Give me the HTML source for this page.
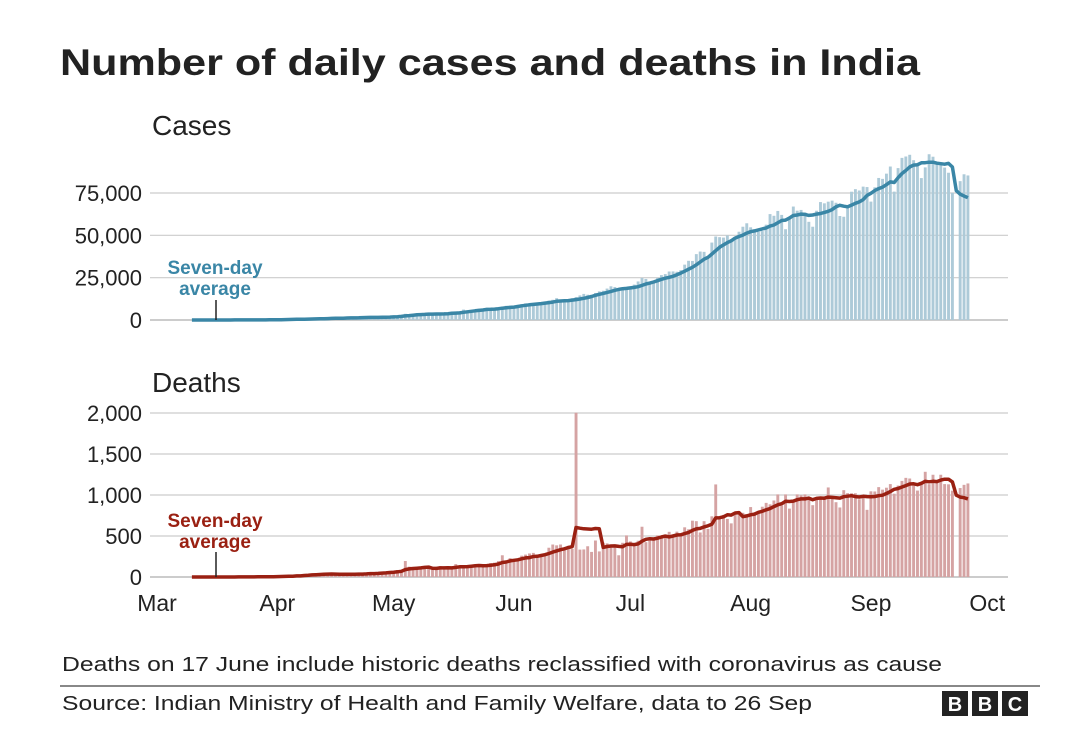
<!DOCTYPE html>
<html><head><meta charset="utf-8"><style>
html,body{margin:0;padding:0;background:#fff;}
svg{display:block;font-family:"Liberation Sans",Arial,sans-serif;}
</style></head><body>
<svg id="chart" width="1080" height="751" viewBox="0 0 1080 751">
<text x="60" y="75" font-size="37" font-weight="bold" fill="#222" textLength="860" lengthAdjust="spacingAndGlyphs">Number of daily cases and deaths in India</text>
<text x="152" y="135" font-size="28" fill="#222">Cases</text>
<text x="152" y="392" font-size="28" fill="#222">Deaths</text>
<g id="cases"></g>
<g id="deaths"></g>
<g id="xaxis"></g>
<text x="62" y="671" font-size="20" fill="#222" textLength="880" lengthAdjust="spacingAndGlyphs">Deaths on 17 June include historic deaths reclassified with coronavirus as cause</text>
<line x1="60" y1="686" x2="1040" y2="686" stroke="#888" stroke-width="2"/>
<text x="62" y="710" font-size="20" fill="#222" textLength="750" lengthAdjust="spacingAndGlyphs">Source: Indian Ministry of Health and Family Welfare, data to 26 Sep</text>
<g>
<rect x="942" y="691" width="26" height="25" fill="#222"/><rect x="972" y="691" width="26" height="25" fill="#222"/><rect x="1002" y="691" width="26" height="25" fill="#222"/>
<text x="955" y="711" font-size="20" font-weight="bold" fill="#fff" text-anchor="middle">B</text>
<text x="985" y="711" font-size="20" font-weight="bold" fill="#fff" text-anchor="middle">B</text>
<text x="1015" y="711" font-size="20" font-weight="bold" fill="#fff" text-anchor="middle">C</text>
</g>
</svg>
<script>
const startDay = 9; // Mar 10 = day index 9 from Mar 1
const cases = [6,13,9,15,19,10,12,23,24,40,50,86,64,80,85,73,88,90,97,103,227,146,
437,235,478,525,505,704,508,485,591,896,768,918,796,1463,1076,941,1007,1324,1580,1334,1540,1290,1667,1408,1835,1607,1561,1873,1738,1801,
2396,2564,2952,3656,2971,3602,3344,3339,3175,4311,3592,3604,3524,3763,3942,4864,5050,4630,6147,5611,5609,6088,6654,6767,6977,6535,6387,7466,7964,8380,8392,
8171,8909,9304,9851,9887,9971,9983,9987,10956,11458,11929,12881,11502,10667,10974,12881,13586,14516,15413,14933,14821,15968,16922,17296,18552,19906,19459,18522,18653,18339,
19148,20903,22771,24850,24248,22252,22752,24879,26506,27114,28637,28701,28498,29429,32695,34956,34884,38902,40425,40243,37148,45720,49310,48916,48661,49931,47704,48513,52123,55079,57118,
54735,52972,52050,52509,56282,62538,61537,64399,62064,53601,60963,66999,64553,65002,63490,57981,55079,64531,69652,68898,69876,70488,69239,61408,60975,67151,75760,77266,76472,78761,78512,
69921,78357,83883,83341,86432,90632,75809,89706,95735,96551,97570,94372,92071,83809,90123,97894,96424,93337,92605,90000,86961,75083,null,82000,86052,85362];
const deaths = [0,1,0,1,0,0,1,0,1,0,0,2,1,2,1,1,3,4,6,4,2,9,
3,14,9,20,11,25,13,32,36,40,37,34,35,33,37,35,23,31,37,36,35,47,38,41,57,40,48,62,60,73,
72,85,83,195,126,89,103,95,128,111,87,122,134,100,103,120,157,134,132,140,132,137,148,137,146,170,175,194,265,193,230,
200,209,260,273,287,294,247,266,279,357,396,386,396,325,380,343,2003,334,336,375,306,445,312,418,410,384,380,265,417,507,
434,379,442,613,425,467,482,507,475,519,551,500,553,500,606,582,687,681,543,681,587,740,1129,705,757,708,654,768,779,783,764,
853,771,803,857,904,886,933,1007,871,1007,834,942,1007,996,1007,941,876,944,977,983,1092,983,912,848,1059,1023,1021,1021,948,971,819,
1045,1043,1096,1065,1089,1133,1016,1115,1172,1209,1201,1114,1054,1136,1283,1132,1247,1174,1247,1133,1130,1053,null,1085,1124,1141];
const caseTicks = [0,25000,50000,75000];
const caseTickLabels = ["0","25,000","50,000","75,000"];
const deathTicks = [0,500,1000,1500,2000];
const deathTickLabels = ["0","500","1,000","1,500","2,000"];
const monthLabels = ["Mar","Apr","May","Jun","Jul","Aug","Sep","Oct"];
const monthStartDays = [0,31,61,92,122,153,184,214];

const NS="http://www.w3.org/2000/svg";
const x = d => 157 + d*3.88;
const yC = v => 320 - v*(127/75000);
const yD = v => 577 - v*(164/2000);
function mk(tag, attrs, parent){const e=document.createElementNS(NS,tag);for(const k in attrs)e.setAttribute(k,attrs[k]);parent.appendChild(e);return e;}
function avg(arr){return arr.map((v,i)=>{const lo=Math.max(0,i-6);let s=0,n=0;for(let j=lo;j<=i;j++){s+=(arr[j]||0);n++;}return s/n;});}

function panel(g, data, ticks, labels, yf, barCol, lineCol, name){
  ticks.forEach((t,i)=>{
    const l=mk('line',{x1:150,x2:1008,y1:yf(t),y2:yf(t),stroke:i===0?'#bbb':'#ccc','stroke-width':i===0?1.5:1.2},g);
    
    
    const tx=mk('text',{x:142,y:yf(t)+8,'font-size':22,fill:'#222','text-anchor':'end'},g);
    tx.textContent=labels[i];
    
    
  });
  data.forEach((v,i)=>{
    if(v==null) return;
    const d=startDay+i;
    const r=mk('rect',{x:x(d)-1.45,y:yf(v),width:2.9,height:Math.max(0,yf(0)-yf(v)),fill:barCol},g);
    
    
  });
  const a=avg(data);
  const p=mk('path',{d:a.map((v,i)=>(i?'L':'M')+x(startDay+i).toFixed(1)+','+yf(v).toFixed(1)).join(''),fill:'none',stroke:lineCol,'stroke-width':3.5,'stroke-linejoin':'round'},g);
  
  
}
panel(document.getElementById('cases'),cases,caseTicks,caseTickLabels,yC,'#adcad8','#3a86a6','cases');
panel(document.getElementById('deaths'),deaths,deathTicks,deathTickLabels,yD,'#d5a3a3','#9a2012','deaths');

function annot(g, col, ty, ly1, ly2, name){
  const t1=mk('text',{x:215,y:ty,'font-size':19,'font-weight':'bold',fill:col,'text-anchor':'middle'},g);t1.textContent='Seven-day';
  
  
  const t2=mk('text',{x:215,y:ty+21,'font-size':19,'font-weight':'bold',fill:col,'text-anchor':'middle'},g);t2.textContent='average';
  
  
  const l=mk('line',{x1:216,x2:216,y1:ly1,y2:ly2,stroke:'#222','stroke-width':1.5},g);
  
  
}
annot(document.getElementById('cases'),'#3a86a6',274,300,320,'cases');
annot(document.getElementById('deaths'),'#9a2012',527,552,577,'deaths');

const xg=document.getElementById('xaxis');
monthLabels.forEach((m,i)=>{
  const t=mk('text',{x:x(monthStartDays[i]),y:611,'font-size':23,fill:'#222','text-anchor':'middle'},xg);
  t.textContent=m;
  
  
});
</script>
</body></html>
